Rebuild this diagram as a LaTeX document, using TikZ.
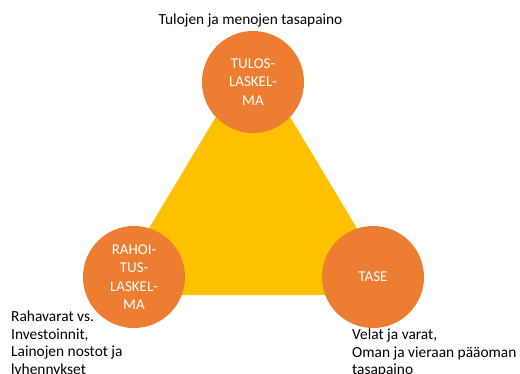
\documentclass[tikz,border=0pt]{standalone}
\usepackage{fontspec}
\setmainfont{Carlito}
\definecolor{orng}{HTML}{ED7D31}
\definecolor{gold}{HTML}{FFC000}
\begin{document}
\begin{tikzpicture}[x=1pt,y=-1pt,
  disc/.style={circle,fill=orng,minimum size=102pt,inner sep=0pt,text=white,
    font=\fontsize{15}{18.3}\selectfont,align=center},
  note/.style={font=\fontsize{15.4}{17.5}\selectfont,align=left,inner sep=0pt,text=black}]
\useasboundingbox (0,0) rectangle (520,373);
\clip (0,0) rectangle (520,373);
\coordinate (apex) at (253,55);
\coordinate (bl) at (109,295);
\coordinate (br) at (397,295);
\fill[gold] (apex) -- (bl) -- (br) -- cycle;
\node[disc] (tulos) at (253,82) {TULOS-\\LASKEL-\\MA};
\node[disc] (rahoitus) at (134,277) {RAHOI-\\TUS-\\LASKEL-\\MA};
\node[disc] (tase) at (373,277) {TASE};
\node[note,anchor=base] (tulostxt) at (250.5,24) {Tulojen ja menojen tasapaino};
\node[note,anchor=north west] (rahtxt) at (11,311) {Rahavarat vs.\\Investoinnit,\\Lainojen nostot ja\\lyhennykset};
\node[note,anchor=north west] (tasetxt) at (352,329) {Velat ja varat,\\Oman ja vieraan pääoman\\tasapaino};
\end{tikzpicture}
\end{document}
